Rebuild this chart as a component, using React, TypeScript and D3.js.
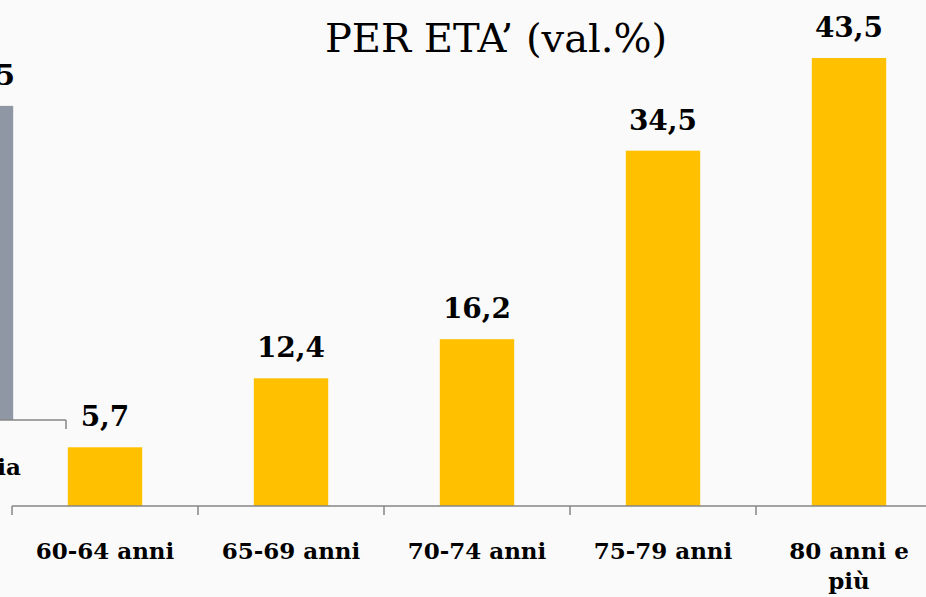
import { useEffect, useRef } from "react";
import * as d3 from "d3";

// age groups (the right-hand chart)
const ageGroups = ["60-64 anni", "65-69 anni", "70-74 anni", "75-79 anni", "80 anni e più"];
const ageValues = [5.7, 12.4, 16.2, 34.5, 43.5];
const ageLabels = ["5,7", "12,4", "16,2", "34,5", "43,5"];

// the neighbouring chart, cut off at the left edge of the slide
const leftCategories = ["Media"];
const leftValues = [30.5];
const leftLabels = ["30,5"];

const title = "PER ETA\u2019 (val.%)";

function App() {
  const ref = useRef<SVGSVGElement>(null);

  useEffect(() => {
    const width = 926;
    const height = 597;
    const svg = d3.select(ref.current);
    svg.selectAll("*").remove();

    svg
      .append("rect")
      .attr("width", width)
      .attr("height", height)
      .attr("fill", "#fafafa");

    const font = "'DejaVu Serif', serif";
    const axisColor = "#868686";
    const barFrac = 0.4;

    // main chart
    const baseY = 506;
    const x = d3.scaleBand<string>().domain(ageGroups).range([12, 942]);
    const y = d3.scaleLinear().domain([0, 43.5]).range([baseY, 58]);
    const bw = x.bandwidth() * barFrac;

    const g = svg.append("g");
    g.selectAll("rect.bar")
      .data(ageGroups)
      .join("rect")
      .attr("class", "bar")
      .attr("x", (d) => (x(d) as number) + (x.bandwidth() - bw) / 2)
      .attr("y", (_d, i) => y(ageValues[i]))
      .attr("width", bw)
      .attr("height", (_d, i) => baseY - y(ageValues[i]))
      .attr("fill", "#ffc000");

    g.selectAll("text.val")
      .data(ageGroups)
      .join("text")
      .attr("class", "val")
      .attr("x", (d) => (x(d) as number) + x.bandwidth() / 2)
      .attr("y", (_d, i) => y(ageValues[i]) - 21)
      .attr("text-anchor", "middle")
      .attr("font-family", font)
      .attr("font-weight", "bold")
      .attr("font-size", 28)
      .attr("fill", "#000")
      .text((_d, i) => ageLabels[i]);

    // axis line + ticks between categories
    g.append("line")
      .attr("x1", 12)
      .attr("x2", width)
      .attr("y1", baseY)
      .attr("y2", baseY)
      .attr("stroke", axisColor)
      .attr("stroke-width", 1.5);
    const ticks = ageGroups.map((d) => x(d) as number);
    g.selectAll("line.tick")
      .data(ticks)
      .join("line")
      .attr("class", "tick")
      .attr("x1", (d) => d)
      .attr("x2", (d) => d)
      .attr("y1", baseY)
      .attr("y2", baseY + 9)
      .attr("stroke", axisColor)
      .attr("stroke-width", 1.5);

    // category labels, wrapped like the original
    ageGroups.forEach((d) => {
      const cx = (x(d) as number) + x.bandwidth() / 2;
      const lines = d === "80 anni e più" ? ["80 anni e", "più"] : [d];
      const t = g
        .append("text")
        .attr("x", cx)
        .attr("y", 559)
        .attr("text-anchor", "middle")
        .attr("font-family", font)
        .attr("font-weight", "bold")
        .attr("font-size", 23)
        .attr("fill", "#000");
      lines.forEach((l, i) => {
        t.append("tspan")
          .attr("x", cx)
          .attr("dy", i === 0 ? 0 : 30)
          .text(l);
      });
    });

    // title
    svg
      .append("text")
      .attr("x", 496)
      .attr("y", 52)
      .attr("text-anchor", "middle")
      .attr("font-family", font)
      .attr("font-size", 40)
      .attr("fill", "#000")
      .text(title);

    // partial chart at the left edge
    const leftBase = 420;
    const xl = d3.scaleBand<string>().domain(leftCategories).range([-120, 66]);
    const yl = d3.scaleLinear().domain([0, 43.5]).range([leftBase, leftBase - 448]);
    const lw = xl.bandwidth() * barFrac;
    const gl = svg.append("g");
    gl.selectAll("rect")
      .data(leftCategories)
      .join("rect")
      .attr("x", (d) => (xl(d) as number) + (xl.bandwidth() - lw) / 2 + 3)
      .attr("y", (_d, i) => yl(leftValues[i]))
      .attr("width", lw)
      .attr("height", (_d, i) => leftBase - yl(leftValues[i]))
      .attr("fill", "#8e97a3");
    gl.selectAll("text.val")
      .data(leftCategories)
      .join("text")
      .attr("class", "val")
      .attr("x", (d) => (xl(d) as number) + xl.bandwidth() / 2 + 8)
      .attr("y", (_d, i) => yl(leftValues[i]) - 21)
      .attr("text-anchor", "middle")
      .attr("font-family", font)
      .attr("font-weight", "bold")
      .attr("font-size", 28)
      .text((_d, i) => leftLabels[i]);
    gl.append("line")
      .attr("x1", -120)
      .attr("x2", 66)
      .attr("y1", leftBase)
      .attr("y2", leftBase)
      .attr("stroke", axisColor)
      .attr("stroke-width", 1.5);
    gl.append("line")
      .attr("x1", 66)
      .attr("x2", 66)
      .attr("y1", leftBase)
      .attr("y2", leftBase + 9)
      .attr("stroke", axisColor)
      .attr("stroke-width", 1.5);
    gl.selectAll("text.cat")
      .data(leftCategories)
      .join("text")
      .attr("class", "cat")
      .attr("x", (d) => (xl(d) as number) + xl.bandwidth() / 2 + 8)
      .attr("y", 475)
      .attr("text-anchor", "middle")
      .attr("font-family", font)
      .attr("font-weight", "bold")
      .attr("font-size", 23)
      .text((d) => d);
  }, []);

  return (
    <svg
      ref={ref}
      width={926}
      height={597}
      style={{ position: "fixed", left: 0, top: 0, display: "block" }}
    />
  );
}

export default App;
